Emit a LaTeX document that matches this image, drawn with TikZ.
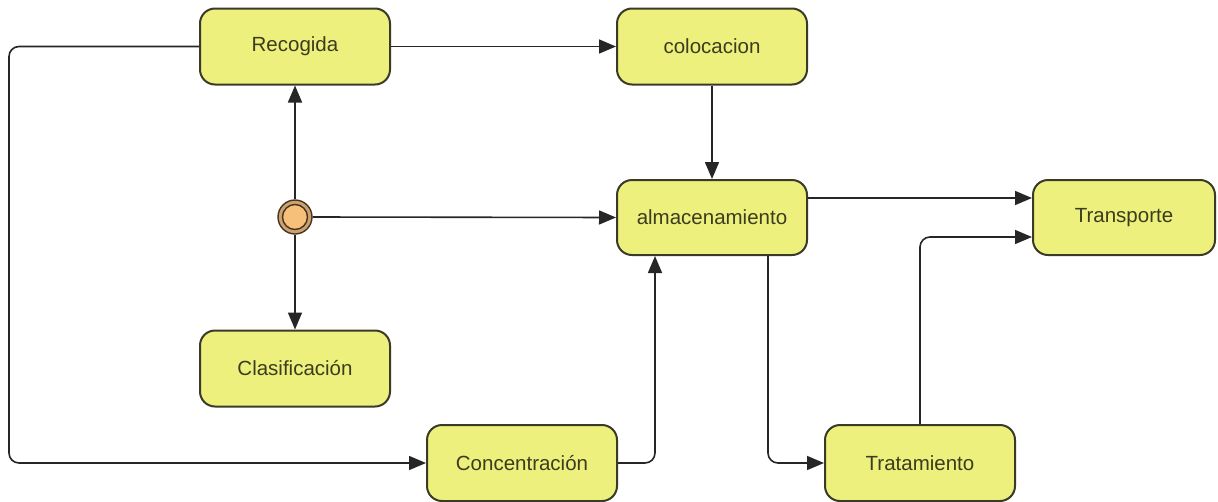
\documentclass[tikz,border=0pt]{standalone}
\usepackage{fontspec}
\setmainfont{Liberation Sans}
\usetikzlibrary{arrows.meta}
\definecolor{boxfill}{HTML}{EDF07C}
\definecolor{boxline}{HTML}{3A3A28}
\definecolor{boxtext}{HTML}{3C3C1E}
\definecolor{ringfill}{HTML}{C9A46E}
\definecolor{dotfill}{HTML}{F6C07A}
\definecolor{dotline}{HTML}{4A3220}
\begin{document}
\begin{tikzpicture}[x=1pt,y=-1pt,
  act/.style={draw=boxline,fill=boxfill,line width=2pt,rounded corners=15pt,
    minimum width=190pt,minimum height=76pt,inner sep=0pt,
    text=boxtext,font=\fontsize{20.5}{23}\selectfont},
  flow/.style={draw=black!85,line width=1.6pt,rounded corners=10pt,
    -{Triangle[length=17pt,width=14pt]}}]
\useasboundingbox (0,0) rectangle (1218,501);
% activities
\node[act] (rec) at (295,46.5) {Recogida};
\node[act] (col) at (712,46.5) {colocacion};
\node[act,minimum height=75pt] (alm) at (712,217.5) {almacenamiento};
\node[act,minimum width=182pt,minimum height=75pt] (tra) at (1124,217.5) {Transporte};
\node[act] (cla) at (295,368.5) {Clasificación};
\node[act] (con) at (522,463) {Concentración};
\node[act] (trt) at (920,463) {Tratamiento};
% initial state
\node[circle,draw=dotline,fill=ringfill,line width=1.4pt,minimum size=34pt,inner sep=0pt] (ini) at (295,217) {};
\node[circle,draw=dotline,fill=dotfill,line width=1.4pt,minimum size=25pt,inner sep=0pt] at (ini) {};
% free corner of the long loop on the left
\coordinate (lft) at (9,255);
% transitions
\draw[flow] (ini.north) -- (rec.south);
\draw[flow] (ini.south) -- (cla.north);
\draw[flow] (ini.east) -- (alm.west);
\draw[flow] (rec.east) -- (col.west);
\draw[flow] (col.south) -- (alm.north);
\draw[flow] ([yshift=19.5pt]alm.east) -- ([yshift=19.5pt]tra.west);
\draw[flow] ([xshift=56pt]alm.south) |- (trt.west);
\draw[flow] (trt.north) |- ([yshift=-19.5pt]tra.west);
\draw[flow] (con.east) -| ([xshift=-57pt]alm.south);
\draw[flow] (rec.west) -- (rec.west -| lft) |- (con.west);
\end{tikzpicture}
\end{document}
